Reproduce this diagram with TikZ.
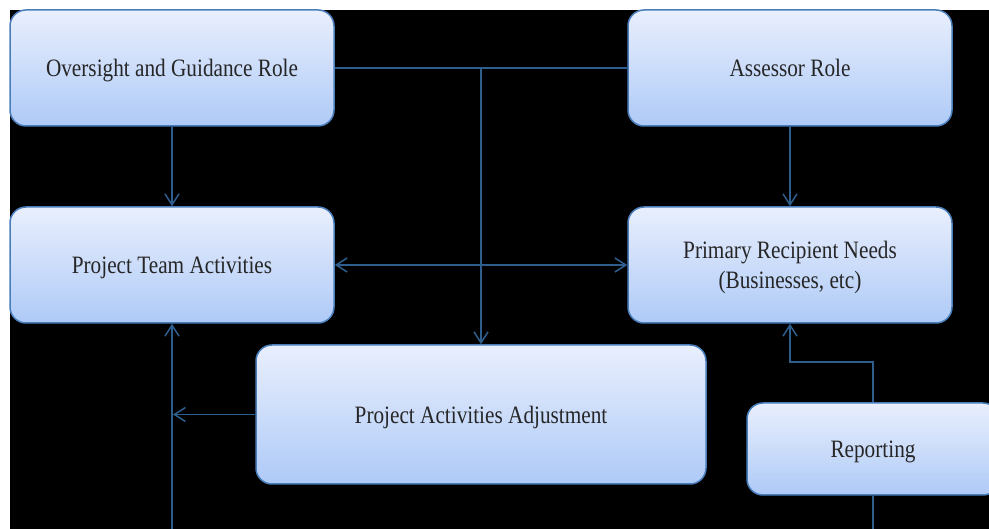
\documentclass[tikz,border=0pt]{standalone}
\usepackage{fontspec}
\setmainfont{Liberation Serif}
\usetikzlibrary{arrows.meta}
\definecolor{boxtop}{HTML}{E9EFFD}
\definecolor{boxbot}{HTML}{AECAF7}
\definecolor{boxline}{HTML}{4A7EBB}
\definecolor{conn}{HTML}{2E5E8E}
\newcommand{\lbl}[1]{\scalebox{0.85}[1]{#1}}
\tikzset{
  rbox/.style={draw=boxline, line width=1.5pt, rounded corners=16pt,
    top color=boxtop, bottom color=boxbot, inner sep=0pt,
    minimum width=324pt, minimum height=116pt, align=center,
    font=\fontsize{25}{29}\selectfont, text=black!85, text depth=0pt},
  conline/.style={draw=conn, line width=1.5pt},
  arr/.style={conline, -{Straight Barb[length=11pt, width=14pt, line width=1.5pt]}},
  darr/.style={conline, {Straight Barb[length=11pt, width=14pt, line width=1.5pt]}-{Straight Barb[length=11pt, width=14pt, line width=1.5pt]}}
}
\begin{document}
\begin{tikzpicture}[x=1pt, y=-1pt]
\useasboundingbox (0,0) rectangle (989,529);
\fill[white] (0,0) rectangle (989,529);
\fill[black] (10,10) rectangle (989,529);
\clip (0,0) rectangle (989,529);
\node[rbox, text depth=-11pt] (b1) at (172,68) {\lbl{Oversight and Guidance Role}};
\node[rbox, text depth=-11pt] (b2) at (790,68) {\lbl{Assessor Role}};
\node[rbox] (b3) at (172,265) {\lbl{Project Team Activities}};
\node[rbox] (b4) at (790,265) {\lbl{Primary Recipient Needs}\\[1pt]\lbl{(Businesses, etc)}};
\node[rbox, minimum width=450pt, minimum height=139pt] (b5) at (481,414.5) {\lbl{Project Activities Adjustment}};
\node[rbox, minimum width=252pt, minimum height=92pt] (b6) at (873,449) {\lbl{Reporting}};
\coordinate (bot3) at (172,529);
\coordinate (bot6) at (873,529);
\coordinate (tip5) at (172,414.5);
\coordinate (turn) at (873,362);
\coordinate (join) at (481,68);
% connectors
\draw[conline] (b1.east |- join) -- (b2.west |- join);
\draw[arr] (join) -- (b5.north);
\draw[arr] (b1.south) -- (b3.north);
\draw[arr] (b2.south) -- (b4.north);
\draw[darr] (b3.east) -- (b4.west);
\draw[arr] (b5.west) -- ([xshift=1pt]tip5);
\draw[arr] (bot3) -- (b3.south);
\draw[arr] (b6.north) -- (turn) -| (b4.south);
\draw[conline] (b6.south) -- (bot6);
\end{tikzpicture}
\end{document}
